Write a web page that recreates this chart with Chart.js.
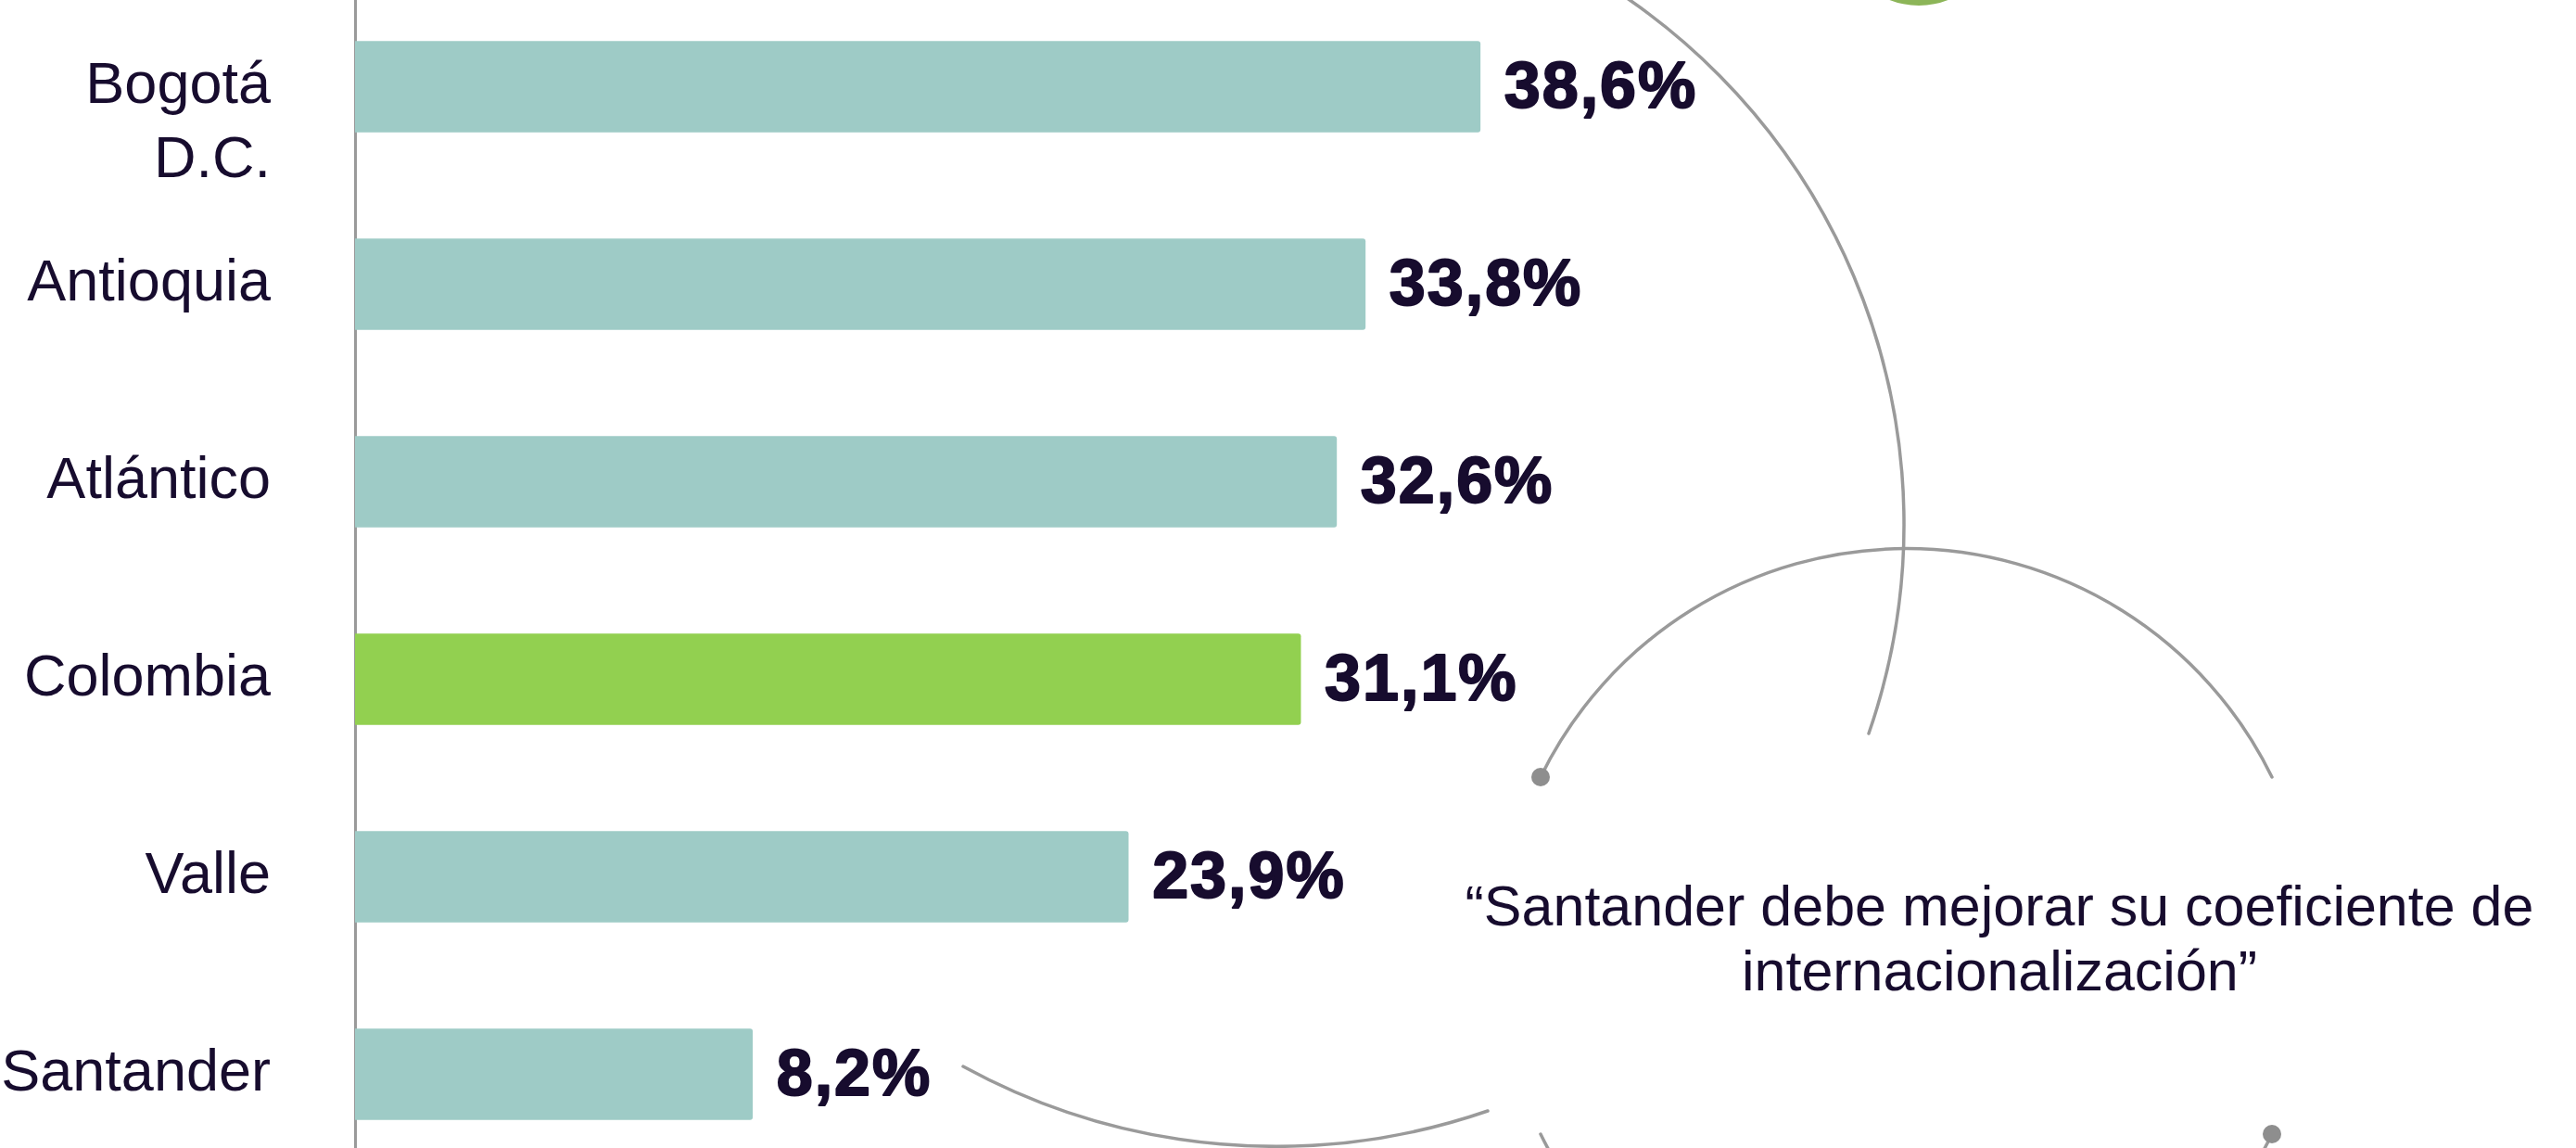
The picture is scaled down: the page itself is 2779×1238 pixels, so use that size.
<!DOCTYPE html>
<html lang="es">
<head>
    <meta charset="UTF-8">
    <title>Coeficiente de internacionalización</title>
    <style>
        html, body {
            margin: 0;
            padding: 0;
            background: white;
        }
        #wrap {
            position: relative;
            width: 2779px;
            height: 1238px;
            overflow: hidden;
            background: white;
        }
        #deco {
            position: absolute;
            left: 0;
            top: 0;
        }
        #chart {
            position: absolute;
            left: 0;
            top: -13px;
        }
        #quote {
            position: absolute;
            left: 1537px;
            top: 942px;
            width: 1240px;
            text-align: center;
            font-family: "Liberation Sans", Arial, sans-serif;
            font-size: 61px;
            line-height: 70px;
            color: #170c2e;
        }
    </style>
    <script src="https://cdn.jsdelivr.net/npm/chart.js"></script>
</head>
<body>
<div id="wrap">
    <!-- decorative circles behind the chart -->
    <svg id="deco" width="2779" height="1238" viewBox="0 0 2779 1238">
        <g fill="none" stroke="#9a9a9a" stroke-width="3.5" stroke-linecap="round">
            <path d="M 1657 -58 A 688 688 0 0 1 2016 791"/>
            <path d="M 1039 1150 A 703 703 0 0 0 1605 1198"/>
            <path d="M 1662 838 A 439 439 0 0 1 2451 838"/>
            <path d="M 2451 1223 A 439 439 0 0 1 1662 1223"/>
        </g>
        <circle cx="1662" cy="838" r="10" fill="#8e8e8e"/>
        <circle cx="2451" cy="1223" r="10" fill="#8e8e8e"/>
        <circle cx="2070" cy="-80" r="86" fill="#8cb558"/>
    </svg>
    <canvas id="chart" width="2779" height="1278"></canvas>
    <div id="quote">“Santander debe mejorar su coeficiente de<br>internacionalización”</div>
</div>
<script>
    // departamentos y valores (%)
    var categories = [['', 'Bogotá', 'D.C.'], 'Antioquia', 'Atlántico', 'Colombia', 'Valle', 'Santander'];
    var values = [38.6, 33.8, 32.6, 31.1, 23.9, 8.2];
    var highlight = 'Colombia';

    var textColor = '#170c2e';
    var teal = '#9ecbc6';
    var green = '#92d050';

    Chart.defaults.font.family = '"Liberation Sans", Arial, sans-serif';

    var barColors = categories.map(function (c) {
        return c === highlight ? green : teal;
    });

    // value labels at the end of each bar, heavy like the original
    var valueLabels = {
        id: 'valueLabels',
        afterDatasetsDraw: function (chart) {
            var ctx = chart.ctx;
            var meta = chart.getDatasetMeta(0);
            ctx.save();
            ctx.fillStyle = textColor;
            ctx.strokeStyle = textColor;
            ctx.lineWidth = 2;
            ctx.lineJoin = 'round';
            ctx.font = 'bold 70px "Liberation Sans", Arial, sans-serif';
            ctx.letterSpacing = '2px';
            ctx.textAlign = 'left';
            ctx.textBaseline = 'middle';
            meta.data.forEach(function (bar, i) {
                var txt = values[i].toFixed(1).replace('.', ',') + '%';
                ctx.fillText(txt, bar.x + 26, bar.y + 3);
                ctx.strokeText(txt, bar.x + 26, bar.y + 3);
            });
            ctx.restore();
        }
    };

    var chart = new Chart(document.getElementById('chart'), {
        type: 'bar',
        data: {
            labels: categories,
            datasets: [{
                data: values,
                base: -8.4,
                backgroundColor: barColors,
                barThickness: 98,
                borderRadius: 3,
                borderSkipped: 'start'
            }]
        },
        options: {
            indexAxis: 'y',
            responsive: false,
            animation: false,
            layout: { padding: { left: 0, right: 113, top: 0, bottom: 0 } },
            plugins: {
                legend: { display: false },
                tooltip: { enabled: false }
            },
            scales: {
                x: { display: false, min: -8.4, max: 80 },
                y: {
                    grid: { display: false, drawTicks: false },
                    border: { display: true, color: '#9a9a9a', width: 3 },
                    ticks: {
                        autoSkip: false,
                        padding: 91,
                        color: textColor,
                        font: { size: 63, lineHeight: 1.27 }
                    },
                    afterFit: function (s) {
                        s.width = 383;
                        s.paddingTop = 0;
                        s.paddingBottom = 0;
                    }
                }
            }
        },
        plugins: [valueLabels]
    });
</script>
</body>
</html>
